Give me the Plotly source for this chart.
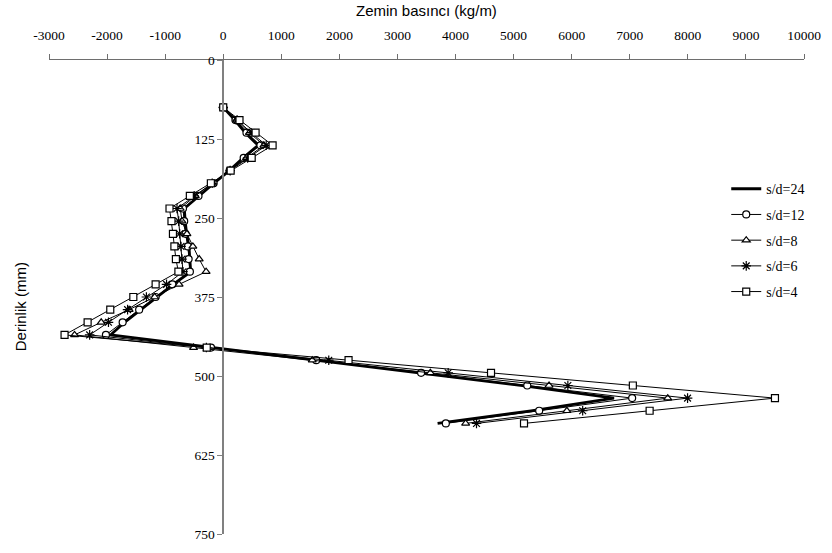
import plotly.graph_objects as go

depth = [75, 95, 115, 135, 155, 175, 195, 215, 235, 255, 275, 295, 315, 335,
         355, 375, 395, 415, 435, 455, 475, 495, 515, 535, 555, 575]

sd24 = [0, 200, 380, 600, 340, 105, -160, -410, -670, -655, -630, -590, -580, -560,
        -860, -1140, -1420, -1700, -1940, -200, 1560, 3330, 5120, 6729, 5300, 3691]
sd12 = [0, 210, 400, 640, 352, 110, -165, -426, -693, -672, -650, -608, -596, -574,
        -875, -1164, -1448, -1732, -2020, -210, 1601, 3407, 5235, 7041, 5440, 3833]
sd8 = [0, 230, 450, 700, 400, 115, -185, -480, -740, -710, -625, -523, -414, -295,
       -760, -1180, -1620, -2101, -2560, -511, 1533, 3566, 5610, 7654, 5917, 4174]
sd6 = [0, 240, 480, 740, 420, 120, -190, -500, -796, -767, -750, -727, -710, -693,
       -976, -1323, -1647, -1976, -2300, -290, 1817, 3873, 5934, 7995, 6189, 4361]
sd4 = [0, 280, 557, 850, 490, 128, -213, -575, -925, -891, -866, -841, -815, -772,
       -1164, -1548, -1945, -2335, -2732, -284, 2158, 4611, 7053, 9500, 7342, 5179]

x_ticks = list(range(-3000, 10001, 1000))
y_ticks = [0, 125, 250, 375, 500, 625, 750]

serif = "Liberation Serif, Times New Roman, serif"
sans = "Liberation Sans, Arial, sans-serif"

fig = go.Figure()

fig.add_trace(go.Scatter(x=sd24, y=depth, name="s/d=24", mode="lines",
                         line=dict(color="black", width=2.8), legendgroup="a"))

specs = [("s/d=12", sd12, "circle", 7, "white"),
         ("s/d=8", sd8, "triangle-up", 7, "white"),
         ("s/d=6", sd6, "asterisk", 8, "black"),
         ("s/d=4", sd4, "square", 7, "white")]
for i, (nm, vals, sym, sz, fc) in enumerate(specs):
    fig.add_trace(go.Scatter(
        x=vals, y=depth, name=nm, mode="lines+markers",
        line=dict(color="black", width=1),
        marker=dict(symbol=sym, size=sz, color=fc,
                    line=dict(color="black", width=1.2)),
        legendgroup="g%d" % i))

fig.update_layout(
    width=832, height=553,
    margin=dict(l=49, r=20, t=60, b=11),
    paper_bgcolor="white", plot_bgcolor="white",
    showlegend=True,
    legend=dict(x=0.897, y=1 - (175 - 60) / 481.7, xanchor="left", yanchor="top",
                font=dict(family=serif, size=14, color="black"),
                bgcolor="rgba(0,0,0,0)", itemwidth=30, tracegroupgap=4.5),
    xaxis=dict(range=[-3000, 10000], side="top", tickvals=x_ticks,
               ticktext=[str(v) for v in x_ticks], showgrid=False, zeroline=False,
               showline=True, linecolor="#6e6e6e", linewidth=1,
               ticks="outside", ticklen=5, tickcolor="#6e6e6e",
               ticklabelstandoff=9,
               tickfont=dict(family=serif, size=13.5, color="black")),
    yaxis=dict(range=[750, 0], tickvals=y_ticks, showgrid=False, zeroline=False,
               anchor="free", position=3000 / 13000,
               showline=True, linecolor="#808080", linewidth=1.5,
               ticks="outside", ticklen=5, tickcolor="#808080",
               tickfont=dict(family=serif, size=13.5, color="black")),
    annotations=[
        dict(text="Zemin basıncı (kg/m)", xref="paper", yref="paper",
             x=0.5, y=1 + (60 - 10) / 481.7, xanchor="center", yanchor="middle",
             showarrow=False, font=dict(family=sans, size=15, color="black")),
        dict(text="Derinlik (mm)", xref="paper", yref="paper", textangle=-90,
             x=(21 - 49) / 763, y=1 - (311 - 60) / 481.7, xanchor="center",
             yanchor="middle", showarrow=False,
             font=dict(family=sans, size=15, color="black")),
    ],
)

fig.write_html("out.html")
